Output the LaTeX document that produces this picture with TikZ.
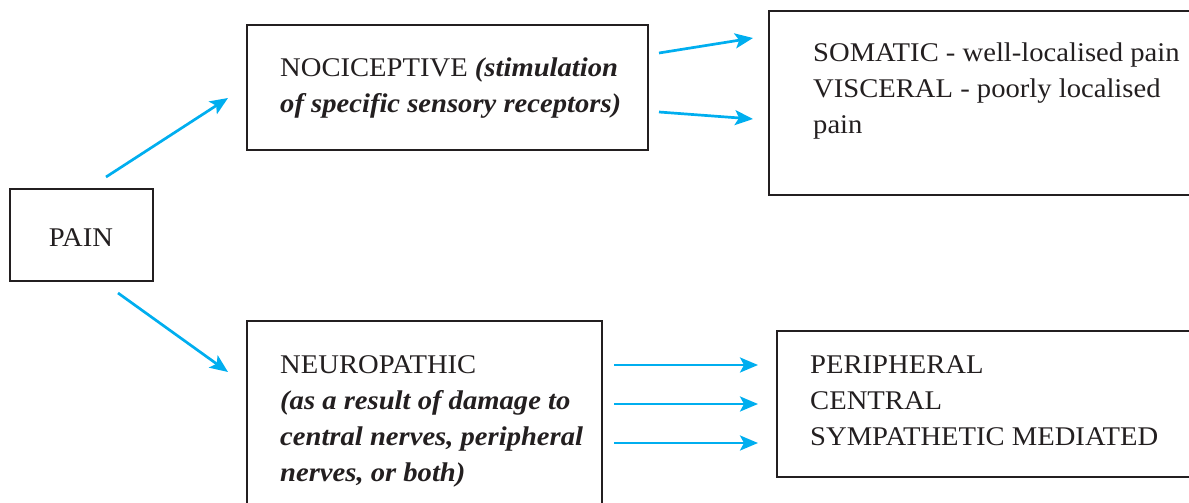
\documentclass[tikz,border=0pt]{standalone}
\usepackage{fontspec}
\setmainfont{Liberation Serif}[FakeStretch=1.06]
\usetikzlibrary{arrows.meta}
\definecolor{inkdark}{HTML}{231F20}
\definecolor{arrowblue}{HTML}{00AEEF}
\newcommand{\linesblock}[1]{\begin{tabular}[t]{@{}l@{}}#1\end{tabular}}
\newcommand{\bi}[1]{\textbf{\textit{#1}}}
\begin{document}
\begin{tikzpicture}[x=1pt,y=-1pt,
  boxnode/.style={draw=inkdark,line width=2.2pt,rectangle,inner sep=0pt},
  txt/.style={anchor=base west,inner sep=0pt,text=inkdark,font=\fontsize{27}{36}\selectfont},
  flow/.style={draw=arrowblue,line width=2.7pt,-{Stealth[length=18pt,width=15pt,inset=4pt]}}]
\useasboundingbox (0,0) rectangle (1189,503);
\begin{scope}
\clip (0,0) rectangle (1189,503);
% boxes
\node[boxnode,minimum width=143pt,minimum height=92pt] (pain) at (81.5,235) {};
\node[boxnode,minimum width=401pt,minimum height=125pt] (noci) at (447.5,87.5) {};
\node[boxnode,minimum width=431pt,minimum height=184pt] (soma) at (984.5,103) {};
\node[boxnode,minimum width=355pt,minimum height=194pt] (neuro) at (424.5,418) {};
\node[boxnode,minimum width=418pt,minimum height=146pt] (periph) at (986,404) {};
\end{scope}
% labels
\node[txt,anchor=base] (paintxt) at (81,246) {PAIN};
\node[txt] (nocitxt) at (280,77) {\linesblock{NOCICEPTIVE \bi{(stimulation}\\\bi{of specific sensory receptors)}}};
\node[txt] (somatxt) at (813,62) {\linesblock{SOMATIC - well-localised pain\\VISCERAL - poorly localised\\pain}};
\node[txt] (neurotxt) at (280,373) {\linesblock{NEUROPATHIC\\\bi{(as a result of damage to}\\\bi{central nerves, peripheral}\\\bi{nerves, or both)}}};
\node[txt] (periphtxt) at (810,373) {\linesblock{PERIPHERAL\\CENTRAL\\SYMPATHETIC MEDIATED}};
% connector ends
\coordinate (a1s) at (106,177); \coordinate (a1e) at (228,98);
\coordinate (a2s) at (118,293); \coordinate (a2e) at (228,372);
\coordinate (b1s) at (659,53);  \coordinate (b1e) at (753,38);
\coordinate (b2s) at (659,112); \coordinate (b2e) at (753,119);
\coordinate (c1s) at (614,365); \coordinate (c1e) at (758,365);
\coordinate (c2s) at (614,404); \coordinate (c2e) at (758,404);
\coordinate (c3s) at (614,443); \coordinate (c3e) at (758,443);
% connectors
\draw[flow] (a1s) -- (a1e);
\draw[flow] (a2s) -- (a2e);
\draw[flow] (b1s) -- (b1e);
\draw[flow] (b2s) -- (b2e);
\draw[flow] (c1s) -- (c1e);
\draw[flow] (c2s) -- (c2e);
\draw[flow] (c3s) -- (c3e);
\end{tikzpicture}
\end{document}
